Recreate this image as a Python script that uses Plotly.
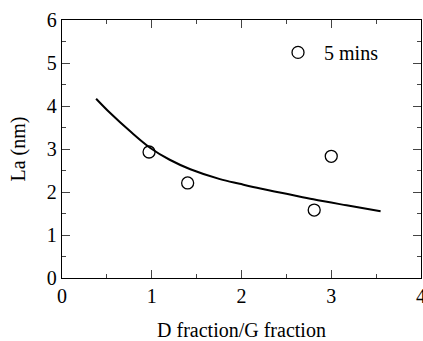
import plotly.graph_objects as go

# Measured Raman ratios and crystallite size La
ratio = [0.97, 1.40, 2.81, 3.00]
la_nm = [2.93, 2.21, 1.58, 2.83]

# Trend curve through the data
curve_x = [0.38, 0.54, 0.76, 0.98, 1.20, 1.43, 1.76, 1.98, 2.21, 2.54, 2.80, 3.17, 3.55]
curve_y = [4.17, 3.83, 3.41, 3.03, 2.75, 2.53, 2.30, 2.19, 2.08, 1.94, 1.83, 1.69, 1.55]

x_ticks = [0, 1, 2, 3, 4]
y_ticks = [0, 1, 2, 3, 4, 5, 6]

FONT = "Liberation Serif"

fig = go.Figure()
fig.add_trace(go.Scatter(
    x=curve_x, y=curve_y, mode="lines",
    line=dict(color="black", width=2, shape="spline", smoothing=1.0),
    showlegend=False, hoverinfo="skip",
))
fig.add_trace(go.Scatter(
    x=ratio, y=la_nm, mode="markers", name="5 mins",
    marker=dict(symbol="circle-open", size=12, color="black", line=dict(width=1.3, color="black")),
))

axis_common = dict(
    showgrid=False, zeroline=False, showline=True, linecolor="black", linewidth=1.3,
    mirror="allticks", ticks="inside", ticklen=8, tickwidth=1.3, tickcolor="#444",
    tickfont=dict(family=FONT, size=20, color="black"),
    ticklabeloverflow="allow", automargin=False,
    minor=dict(ticks="inside", ticklen=4, tickwidth=1.3, tickcolor="#444", dtick=0.5, showgrid=False),
)

fig.update_xaxes(
    range=[0, 4], tickvals=x_ticks, ticktext=[str(v) for v in x_ticks],
    title=dict(text="D fraction/G fraction", font=dict(family=FONT, size=20, color="black"), standoff=24),
    **axis_common,
)
fig.update_yaxes(
    range=[0, 6], tickvals=y_ticks, ticktext=[str(v) for v in y_ticks],
    title=dict(text="La (nm)", font=dict(family=FONT, size=20, color="black"), standoff=15),
    ticklabelstandoff=0,
    **axis_common,
)

fig.update_layout(
    width=423, height=341,
    margin=dict(l=62, r=2, t=20, b=63),
    paper_bgcolor="white", plot_bgcolor="white",
    font=dict(family=FONT, size=20, color="black"),
    legend=dict(x=0.585, y=0.95, xanchor="left", yanchor="top", bgcolor="rgba(0,0,0,0)",
                itemwidth=42, font=dict(family=FONT, size=20, color="black")),
)

fig.write_html("out.html")
